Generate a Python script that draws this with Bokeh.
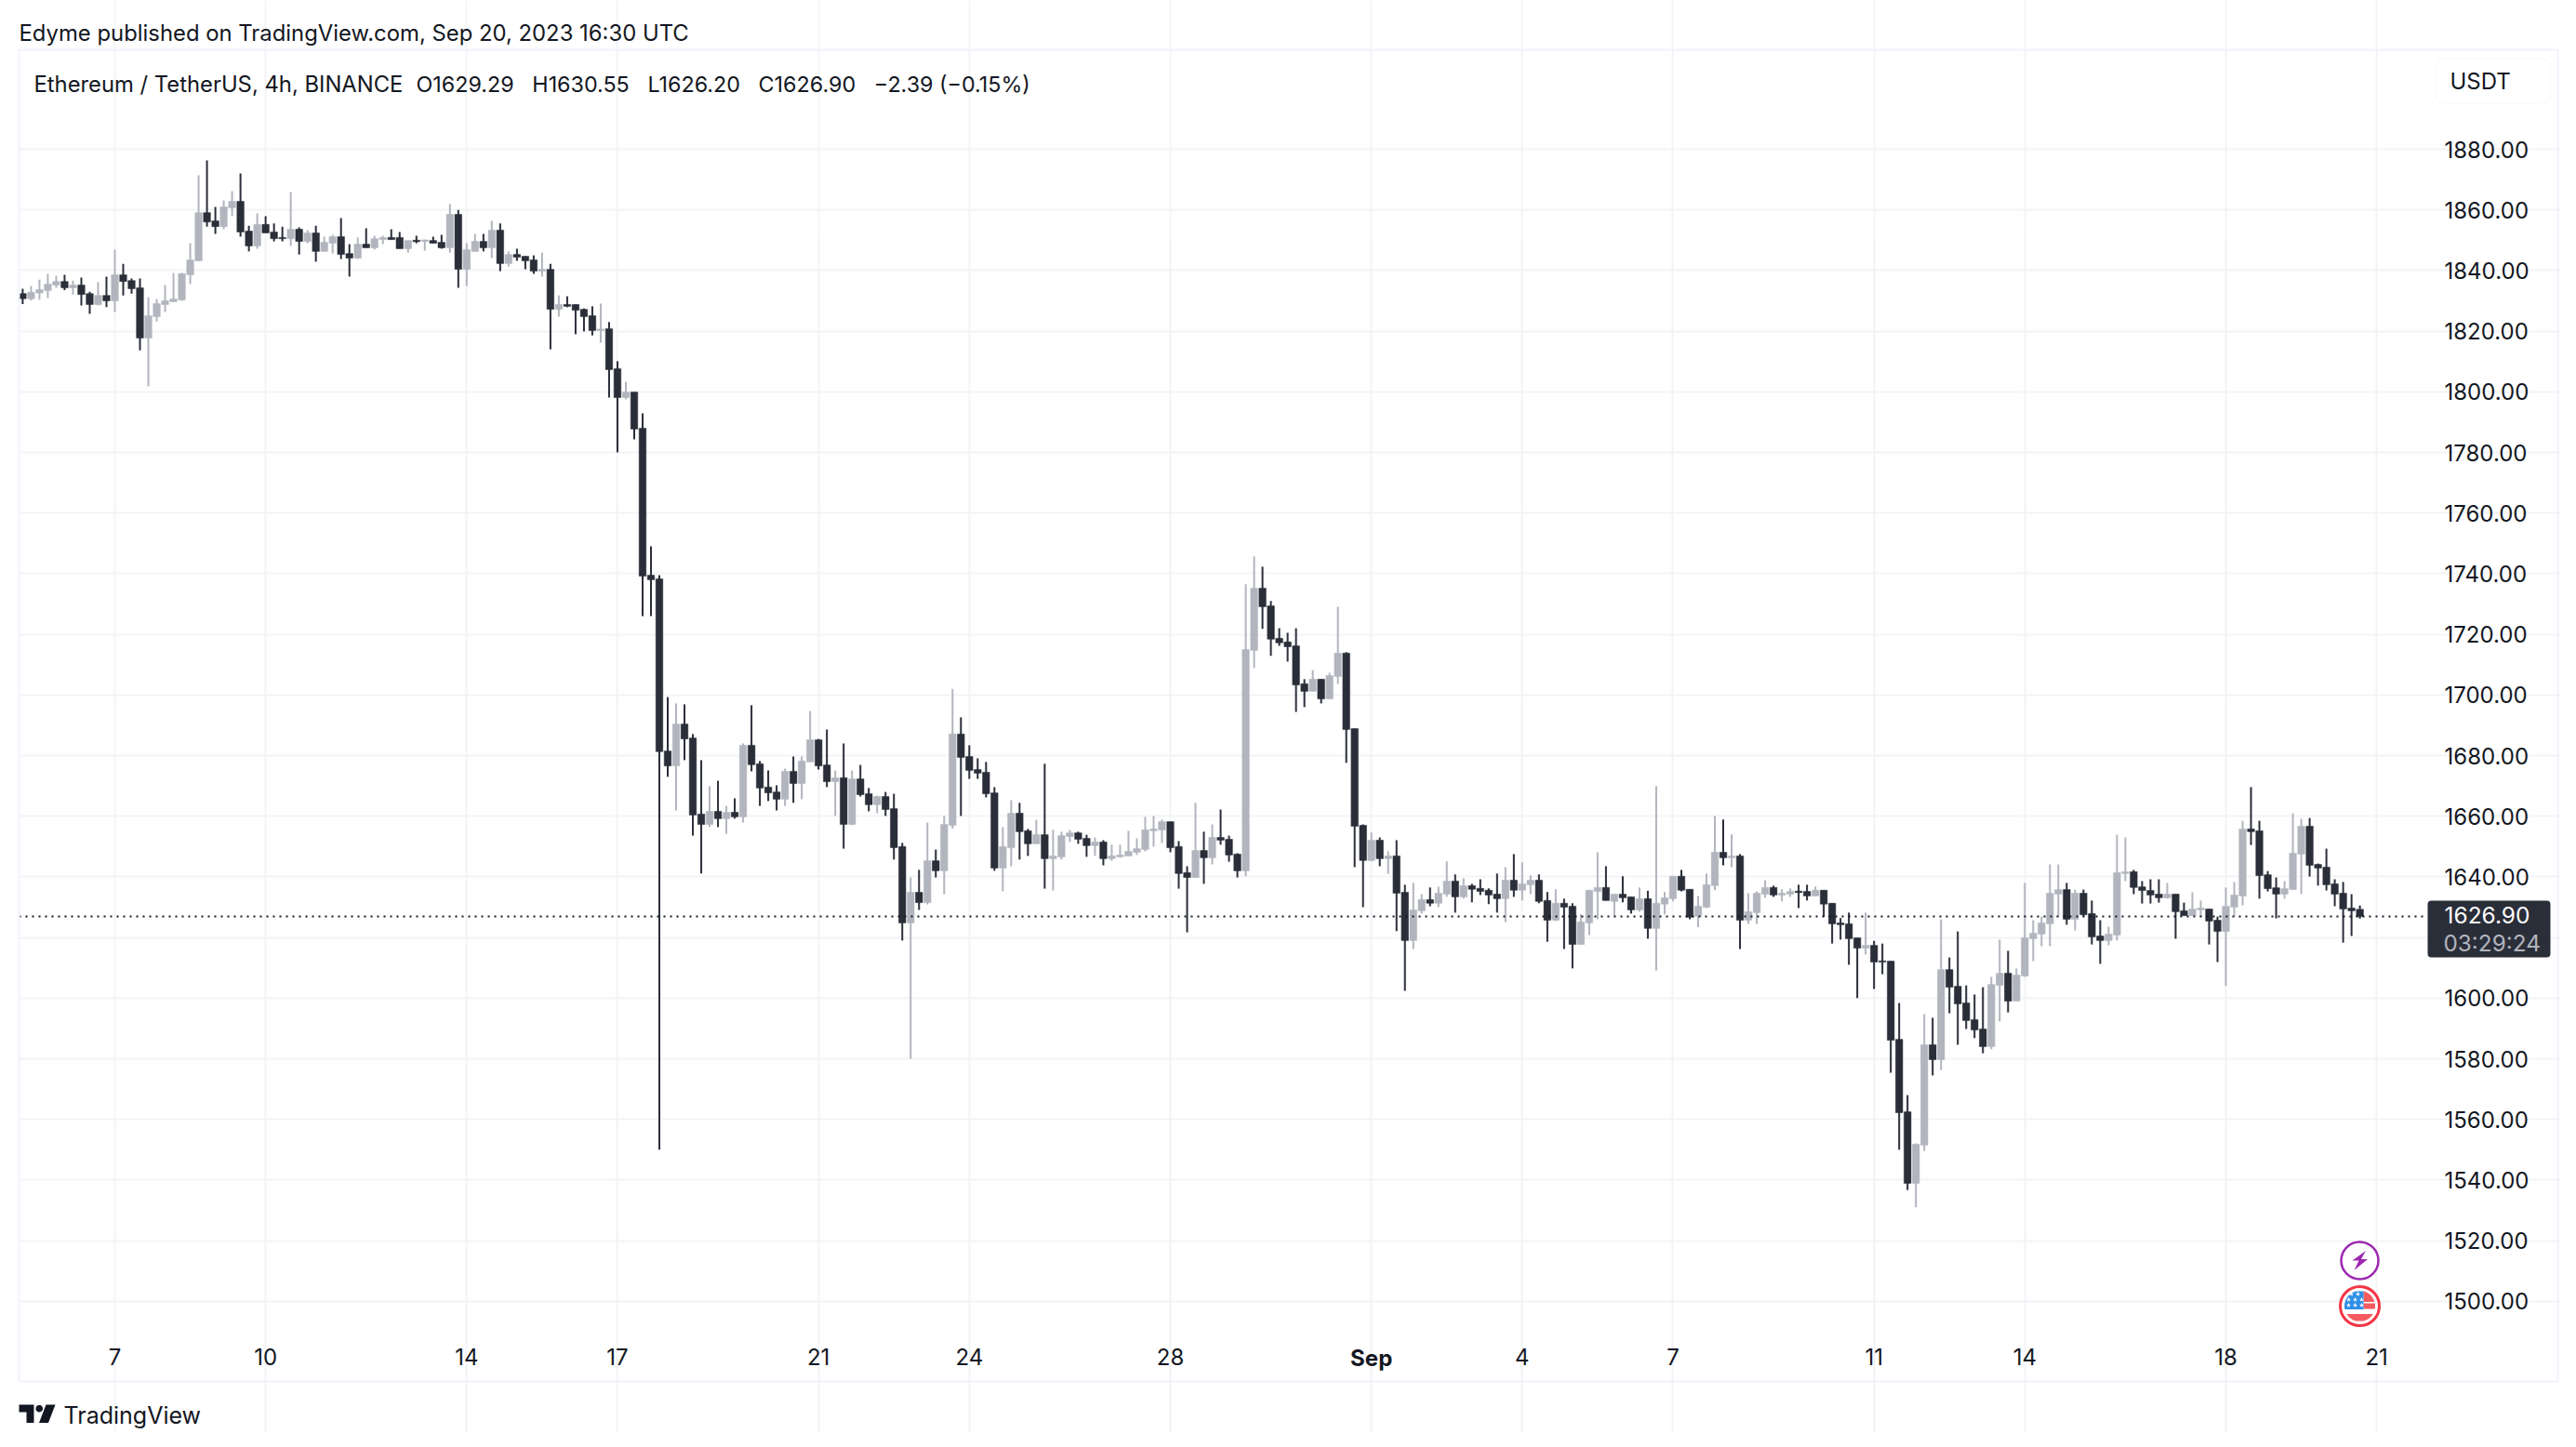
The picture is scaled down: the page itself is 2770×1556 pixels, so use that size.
from bokeh.plotting import figure
from bokeh.models import (ColumnDataSource, Range1d, FixedTicker, Label, BoxAnnotation,
                          PolyAnnotation, NumeralTickFormatter)
from bokeh.embed import file_html
from bokeh.resources import INLINE
import numpy as np

opens = [
1832.4,1830.7,1832.6,1833.4,1835.2,1836.4,1834.3,1835.2,1832.4,1828.8,
1831.8,1830.0,1838.6,1836.7,1834.3,1817.7,1824.8,1828.8,1829.7,1830.3,
1838.6,1843.2,1859.1,1856.4,1854.5,1860.7,1862.8,1853.0,1848.1,1855.2,
1852.7,1850.9,1850.5,1853.6,1849.6,1852.4,1846.3,1849.0,1851.2,1845.6,
1844.1,1848.7,1847.5,1850.2,1850.9,1850.9,1847.2,1850.0,1849.6,1849.9,
1849.3,1847.5,1858.5,1840.4,1846.3,1849.6,1847.5,1853.3,1842.3,1845.3,
1844.7,1843.5,1839.8,1840.4,1827.2,1828.8,1828.8,1827.2,1825.1,1820.2,
1820.8,1807.6,1798.1,1799.9,1788.0,1739.5,1738.3,1681.5,1676.6,1690.4,
1685.8,1660.7,1657.3,1661.6,1659.2,1661.3,1659.8,1683.4,1677.3,1669.6,
1668.0,1665.6,1674.8,1670.8,1677.9,1685.2,1676.9,1671.4,1672.7,1657.3,
1672.3,1667.4,1663.8,1666.5,1662.5,1650.0,1624.8,1634.9,1631.5,1645.3,
1642.0,1657.0,1687.1,1679.7,1675.4,1674.5,1667.7,1642.9,1649.6,1661.0,
1655.2,1650.9,1653.9,1646.0,1646.6,1653.3,1654.5,1652.7,1650.3,1651.5,
1646.0,1646.6,1646.9,1648.1,1649.0,1655.2,1655.5,1658.2,1650.0,1641.4,
1639.8,1648.7,1646.3,1653.0,1652.4,1647.5,1642.0,1714.7,1735.2,1729.4,
1718.7,1717.5,1716.2,1703.7,1701.2,1705.2,1698.7,1706.1,1713.8,1688.9,
1657.0,1645.4,1652.1,1646.0,1646.9,1634.9,1619.0,1628.8,1632.5,1631.3,
1634.3,1638.6,1633.4,1637.1,1636.2,1635.6,1634.3,1632.8,1638.9,1635.6,
1637.4,1638.9,1632.2,1625.7,1631.3,1630.3,1617.7,1624.8,1635.2,1636.5,
1631.9,1634.3,1633.4,1629.1,1632.8,1623.0,1631.0,1632.8,1640.2,1635.9,
1627.0,1630.0,1637.1,1648.1,1646.3,1646.9,1625.7,1628.2,1634.3,1636.5,
1634.0,1634.3,1635.3,1635.2,1633.7,1635.6,1631.3,1624.8,1624.5,1619.9,
1616.5,1617.4,1612.3,1612.2,1586.4,1562.5,1538.9,1551.5,1584.6,1579.7,
1609.4,1603.9,1598.4,1592.9,1589.8,1584.0,1604.2,1608.2,1599.0,1607.3,
1619.6,1621.1,1624.5,1634.3,1635.8,1626.0,1634.6,1627.9,1620.5,1619.0,
1620.8,1641.1,1641.7,1636.7,1635.5,1634.3,1633.1,1634.3,1628.8,1627.2,
1629.1,1629.4,1625.7,1622.0,1630.0,1633.7,1655.8,1655.2,1640.7,1636.4,
1634.3,1635.8,1647.5,1656.7,1644.1,1643.2,1637.7,1634.6,1629.7,1629.29]

closes = [
1830.7,1832.8,1833.7,1835.5,1836.4,1834.3,1835.2,1832.1,1828.8,1831.8,
1830.0,1838.6,1836.4,1834.0,1817.7,1825.1,1829.1,1830.0,1830.6,1839.0,
1843.5,1859.1,1856.0,1854.5,1861.0,1862.8,1852.7,1848.1,1855.2,1852.4,
1850.5,1850.5,1853.6,1849.6,1852.4,1846.3,1849.3,1851.2,1845.3,1844.1,
1848.7,1847.5,1850.5,1850.9,1850.2,1847.2,1849.9,1849.5,1850.1,1849.0,
1847.5,1858.5,1840.4,1846.9,1849.6,1847.5,1853.3,1842.3,1845.3,1844.4,
1843.2,1839.8,1840.4,1827.2,1828.8,1828.2,1826.9,1824.8,1820.2,1820.7,
1807.3,1798.1,1799.9,1787.7,1739.2,1738.0,1681.3,1676.6,1690.4,1685.5,
1660.4,1657.3,1661.6,1659.2,1661.3,1659.8,1683.4,1677.0,1669.3,1667.7,
1665.6,1674.8,1670.8,1678.2,1685.2,1676.6,1671.4,1672.7,1657.3,1672.3,
1667.1,1663.8,1666.5,1662.2,1649.6,1624.8,1634.9,1631.5,1645.3,1642.0,
1657.3,1687.1,1679.4,1675.1,1674.2,1667.4,1642.9,1650.0,1661.0,1654.9,
1650.9,1653.9,1646.0,1646.9,1653.6,1654.5,1652.4,1650.3,1651.5,1646.0,
1646.9,1647.2,1648.4,1649.3,1655.5,1655.8,1658.2,1649.6,1641.1,1639.8,
1648.7,1646.3,1653.0,1652.1,1647.2,1642.0,1715.0,1735.2,1729.1,1718.4,
1717.2,1715.9,1703.3,1701.2,1705.2,1698.7,1706.4,1713.8,1688.6,1656.7,
1645.4,1652.1,1646.0,1646.9,1634.6,1619.0,1629.1,1632.5,1631.3,1634.6,
1638.6,1633.4,1637.1,1635.9,1635.2,1634.0,1632.8,1638.9,1635.6,1637.7,
1638.9,1631.9,1625.7,1631.3,1630.0,1617.7,1625.1,1635.6,1636.5,1632.2,
1634.3,1633.1,1629.1,1632.8,1623.0,1631.3,1633.1,1640.2,1635.6,1626.7,
1630.3,1637.4,1648.1,1646.3,1646.9,1625.7,1628.5,1634.6,1636.5,1634.0,
1634.6,1635.2,1634.8,1633.7,1635.6,1631.0,1624.5,1624.2,1619.6,1616.5,
1617.4,1611.9,1611.9,1586.1,1562.2,1538.9,1551.8,1584.6,1579.7,1609.4,
1603.6,1598.1,1592.6,1589.5,1584.0,1604.5,1608.2,1599.0,1607.6,1619.9,
1621.4,1624.8,1634.6,1635.8,1626.0,1634.6,1627.5,1620.2,1619.0,1621.1,
1641.4,1641.7,1636.5,1635.5,1634.0,1633.1,1634.3,1628.5,1627.2,1629.4,
1629.7,1625.4,1622.0,1630.3,1634.0,1655.8,1654.9,1640.4,1636.1,1634.3,
1636.1,1647.8,1656.7,1643.8,1642.9,1637.4,1634.3,1629.4,1628.8,1626.90]

highs = [
1834.0,1834.9,1837.0,1838.9,1838.3,1838.6,1836.7,1837.7,1833.0,1836.1,
1838.0,1846.9,1842.2,1837.4,1837.4,1831.2,1830.6,1835.2,1839.2,1839.2,
1849.0,1871.4,1876.3,1861.0,1863.1,1866.2,1872.0,1854.8,1858.8,1857.9,
1855.5,1854.5,1865.9,1854.2,1853.3,1854.8,1851.2,1851.8,1857.3,1848.7,
1850.9,1853.9,1851.5,1851.5,1853.6,1852.7,1849.9,1851.5,1850.2,1851.2,
1851.8,1861.9,1860.0,1849.0,1852.1,1852.1,1856.4,1855.5,1846.3,1847.2,
1844.7,1845.0,1845.9,1842.2,1831.8,1831.5,1828.8,1827.5,1828.2,1829.1,
1823.0,1810.1,1803.3,1799.9,1792.9,1749.0,1739.5,1699.3,1697.2,1696.9,
1687.1,1678.5,1669.9,1671.7,1663.4,1665.9,1684.0,1696.6,1678.2,1675.1,
1670.2,1675.7,1679.7,1679.7,1694.7,1685.5,1688.6,1675.1,1684.0,1675.1,
1676.9,1669.3,1666.8,1668.0,1667.4,1651.2,1639.8,1642.3,1657.9,1649.0,
1660.1,1702.0,1692.6,1683.4,1679.1,1677.9,1669.6,1656.4,1665.3,1664.4,
1655.8,1658.8,1677.3,1655.5,1654.9,1655.5,1654.9,1653.9,1653.0,1652.1,
1650.6,1650.6,1655.2,1652.7,1659.8,1660.1,1658.9,1658.2,1651.8,1643.5,
1664.4,1654.9,1657.3,1662.2,1653.6,1647.8,1736.5,1745.7,1742.3,1731.0,
1722.0,1720.5,1722.0,1705.2,1708.2,1705.2,1707.3,1729.1,1714.1,1688.9,
1657.3,1654.6,1653.0,1648.4,1652.1,1637.4,1638.0,1634.3,1636.5,1636.8,
1645.1,1640.8,1639.5,1637.7,1639.2,1636.2,1641.1,1643.2,1647.5,1644.8,
1640.5,1640.8,1635.0,1635.9,1632.8,1631.3,1627.7,1635.6,1648.1,1643.5,
1634.3,1640.2,1633.4,1636.5,1635.4,1669.9,1635.0,1640.2,1642.3,1635.9,
1633.7,1641.1,1660.1,1658.9,1654.0,1647.5,1634.6,1635.2,1638.9,1637.1,
1635.9,1636.2,1637.4,1637.4,1636.8,1635.6,1631.3,1626.4,1628.2,1619.9,
1628.2,1618.9,1618.0,1612.2,1598.4,1568.0,1552.1,1594.7,1593.5,1626.0,
1613.4,1622.0,1604.2,1601.2,1603.6,1607.0,1619.3,1615.6,1609.8,1638.0,
1625.7,1626.9,1644.1,1644.1,1638.0,1635.8,1635.8,1632.2,1625.7,1623.6,
1653.9,1653.0,1642.3,1638.6,1639.2,1639.2,1638.0,1634.3,1631.5,1634.9,
1632.2,1629.4,1626.9,1636.5,1638.3,1658.5,1669.6,1658.5,1641.9,1639.8,
1638.6,1661.0,1659.1,1659.4,1644.4,1649.3,1639.2,1638.3,1634.3,1630.55]

lows = [
1828.9,1830.1,1830.4,1830.9,1834.3,1833.5,1832.1,1828.5,1825.7,1828.5,
1827.9,1826.3,1831.8,1832.4,1813.7,1801.8,1823.2,1826.3,1829.7,1830.0,
1835.5,1843.2,1854.5,1852.1,1853.6,1857.9,1851.2,1846.3,1847.2,1852.4,
1849.6,1849.6,1848.1,1845.3,1849.0,1842.9,1846.3,1845.6,1843.8,1838.0,
1843.8,1847.5,1846.9,1848.7,1850.2,1847.2,1845.9,1849.0,1846.6,1849.0,
1847.2,1845.9,1834.3,1834.9,1846.3,1846.3,1844.1,1839.8,1841.3,1843.2,
1840.4,1838.9,1838.0,1814.0,1824.8,1827.9,1819.0,1819.9,1818.6,1816.2,
1798.1,1780.0,1797.5,1784.3,1726.0,1726.0,1550.0,1673.0,1661.9,1678.5,
1653.6,1641.1,1656.4,1656.4,1654.2,1659.2,1657.9,1674.8,1663.4,1665.0,
1661.9,1663.4,1664.4,1665.6,1677.9,1675.4,1669.6,1660.1,1649.3,1657.0,
1666.5,1661.6,1661.0,1660.1,1645.7,1619.0,1580.0,1629.1,1630.9,1639.8,
1634.3,1655.9,1660.1,1672.3,1672.3,1666.2,1642.0,1635.2,1643.5,1645.7,
1646.9,1650.9,1636.1,1635.5,1645.7,1651.5,1650.9,1646.6,1646.9,1643.8,
1645.3,1646.3,1646.9,1647.2,1648.4,1650.0,1651.2,1648.1,1636.1,1621.7,
1639.8,1637.7,1644.1,1650.6,1645.0,1639.8,1640.2,1708.9,1721.8,1712.9,
1716.2,1711.0,1694.4,1696.0,1701.2,1697.2,1698.7,1703.6,1677.6,1643.2,
1630.0,1645.1,1643.5,1641.0,1622.1,1602.4,1616.2,1627.9,1630.3,1630.0,
1633.4,1628.2,1632.8,1631.6,1634.0,1631.0,1628.2,1625.1,1633.4,1632.2,
1634.3,1631.3,1618.6,1625.4,1616.2,1609.8,1617.7,1620.8,1626.0,1632.2,
1627.0,1631.6,1627.9,1628.5,1619.6,1609.1,1627.6,1631.9,1635.2,1626.0,
1623.4,1629.7,1635.6,1643.8,1643.2,1616.2,1624.5,1624.5,1633.1,1633.4,
1631.9,1633.4,1629.7,1632.2,1633.7,1626.8,1618.0,1619.3,1611.0,1600.0,
1614.4,1603.0,1607.9,1575.4,1550.0,1536.7,1531.0,1549.6,1574.5,1576.3,
1595.0,1584.6,1589.8,1586.8,1581.8,1583.1,1592.3,1595.3,1599.0,1607.0,
1612.2,1617.1,1617.1,1626.9,1624.2,1622.3,1626.9,1617.7,1611.3,1617.4,
1619.0,1638.6,1634.3,1631.2,1631.2,1631.5,1632.8,1619.6,1627.2,1627.2,
1626.9,1617.7,1611.9,1604.0,1626.9,1630.6,1650.5,1632.8,1635.2,1626.3,
1632.8,1635.8,1634.3,1640.1,1637.1,1635.5,1630.3,1618.3,1620.5,1626.20]

price_ticks = [1500, 1520, 1540, 1560, 1580, 1600, 1620, 1640, 1660, 1680, 1700, 1720, 1740, 1760, 1780,
               1800, 1820, 1840, 1860, 1880]
# candle index of the first candle of each labelled day
day_ticks = [11, 29, 53, 71, 95, 113, 137, 161, 179, 197, 221, 239, 263, 281]
day_labels = ["7", "10", "14", "17", "21", "24", "28", "Sep", "4", "7", "11", "14", "18", "21"]

UP, DOWN, INK = "#b2b5be", "#2a2e39", "#131722"
GRID = "#f3f4f7"
BORDER = "#f0f3fa"
FONT = "Inter"

W, H = 2754, 1540
FL, FT, FR, FB = 20, 53, 2610, 1430      # chart pane edges in canvas pixels


def X(px):  # canvas pixel to candle index
    return (px - 23.9) / 9.008


def Y(py):  # canvas pixel to price
    return 1880 - (py - 160) / 3.26


p = figure(width=W, height=H, output_backend="svg", toolbar_location=None,
           x_range=Range1d(X(0), X(W)), y_range=Range1d(Y(H), Y(0)),
           y_axis_location="right", x_axis_location="below", tools="",
           min_border=0, background_fill_color="white", border_fill_color="white")
p.outline_line_color = None

p.xgrid.ticker = FixedTicker(ticks=day_ticks)
p.ygrid.ticker = FixedTicker(ticks=price_ticks)
p.xgrid.bounds = (Y(FB), Y(FT))
p.ygrid.bounds = (X(FL), X(FR))
for g in (p.xgrid, p.ygrid):
    g.grid_line_color = GRID
    g.grid_line_width = 2

ya = p.yaxis[0]
ya.fixed_location = X(FR)
ya.ticker = FixedTicker(ticks=price_ticks)
ya.formatter = NumeralTickFormatter(format="0.00")
ya.major_label_overrides = {1620: ""}
ya.major_label_text_font = FONT
ya.major_label_text_font_size = "24px"
ya.major_label_text_color = INK
ya.major_label_standoff = 12
ya.major_tick_line_color = None
ya.minor_tick_line_color = None
ya.axis_line_color = None

xa = p.xaxis[0]
xa.fixed_location = Y(FB)
xa.ticker = FixedTicker(ticks=day_ticks)
xa.major_label_overrides = {t: ("" if l == "Sep" else l) for t, l in zip(day_ticks, day_labels)}
xa.major_label_text_font = FONT
xa.major_label_text_font_size = "24px"
xa.major_label_text_color = INK
xa.major_label_standoff = 13
xa.major_tick_line_color = None
xa.minor_tick_line_color = None
xa.axis_line_color = None

idx = list(range(len(opens)))
colors = [UP if c >= o else DOWN for o, c in zip(opens, closes)]
src = ColumnDataSource(dict(x=idx, o=opens, c=closes, h=highs, l=lows, color=colors))
p.segment("x", "h", "x", "l", source=src, line_color="color", line_width=2)
p.vbar("x", width=0.84, top="o", bottom="c", source=src, fill_color="color", line_color="color", line_width=0.5)

p.line([X(FL), X(FR)], [closes[-1], closes[-1]], line_color=INK, line_width=2, line_dash="2 5")


def label(px, py, text, size, color=INK, align="left", style="normal"):
    p.add_layout(Label(x=X(px), y=Y(py), text=text, text_font=FONT,
                       text_font_size=size, text_color=color,
                       text_align=align, text_baseline="middle", text_font_style=style))


def poly(xs, ys, fill=None, line=None, lw=0):
    p.add_layout(PolyAnnotation(xs=[X(v) for v in xs], ys=[Y(v) for v in ys],
                                fill_color=fill, fill_alpha=1 if fill else 0,
                                line_color=line, line_width=lw, line_alpha=1 if line else 0))


def box(left, right, top, bottom, **kw):
    p.add_layout(BoxAnnotation(left=X(left), right=X(right), top=Y(top), bottom=Y(bottom),
                               fill_alpha=1, **kw))


# keep the left margin clean, then the outer chart frame
box(0, 20, 0, H, fill_color="white", line_color=None)
poly([20, 2750, 2750, 20], [53, 53, 1485, 1485], line=BORDER, lw=2)

N3 = "\u00a0\u00a0\u00a0"
# header, footer and Sep label
label(20, 35, "Edyme published on TradingView.com, Sep 20, 2023 16:30 UTC", "23.85px")
label(36, 90, "Ethereum / TetherUS, 4h, BINANCE", "23.8px")
label(447, 90, f"O1629.29{N3}H1630.55{N3}L1626.20{N3}C1626.90{N3}\u22122.39 (\u22120.15%)", "23.3px")
label(23.9 + 9.008 * day_ticks[day_labels.index("Sep")], 1460, "Sep", "24px", align="center", style="bold")
label(68, 1521, "TradingView", "25px")

# logo
poly([20, 36, 36, 28, 28, 20], [1510, 1510, 1529.5, 1529.5, 1518, 1518], fill=INK)
t = np.linspace(0, 2 * np.pi, 30)
poly(41.7 + 3.8 * np.cos(t), 1514.2 + 3.8 * np.sin(t), fill=INK)
poly([49, 59, 51.5, 41.5], [1510, 1510, 1529.5, 1529.5], fill=INK)

# USDT button
box(2618, 2742, 62, 110, fill_color="white", line_color=BORDER, line_width=2, border_radius=10)
label(2634, 87, "USDT", "24px")

# last-price tag
box(2610, 2742, 968, 1029, fill_color=DOWN, line_color=DOWN, line_width=0, border_radius=4)
label(2628, 983, f"{closes[-1]:.2f}", "24.5px", color="white")
label(2627, 1013, "03:29:24", "24.3px", color="#b2b5be")


# event icons
def ring(cx, cy, color, r, lw):
    p.scatter([X(cx)], [Y(cy)], size=2 * r, fill_color="white", line_color=color, line_width=lw)


def band(cx, cy, r, x0, x1, y0, y1, color):
    ys = np.linspace(y0, y1, 16)
    half = np.sqrt(np.maximum(r * r - (ys - cy) ** 2, 0))
    left = np.maximum(x0, cx - half)
    right = np.minimum(x1, cx + half)
    p.patch(list(X(np.r_[left, right[::-1]])), list(Y(np.r_[ys, ys[::-1]])), fill_color=color, line_color=None)


ring(2537, 1355, "#9c27b0", 20, 2.5)
bolt_x = [2543.5, 2529, 2536, 2531, 2545.5, 2538.5]
bolt_y = [1344.5, 1355, 1355, 1365.5, 1353.5, 1353.5]
p.patch(list(X(np.array(bolt_x))), list(Y(np.array(bolt_y))), fill_color="#9c27b0", line_color=None)

ring(2537, 1404, "#f23645", 21, 3)
cx, cy, r = 2537, 1404, 16.5
band(cx, cy, r, 2541, 2560, 1388, 1399.5, "#f55a5f")
band(cx, cy, r, 2541, 2560, 1401, 1407, "#f55a5f")
band(cx, cy, r, 2510, 2560, 1412.5, 1420, "#f55a5f")
band(cx, cy, r, 2510, 2541, 1388, 1407.5, "#2f8fe8")
star_x = [2528, 2535, 2525, 2532, 2539, 2525, 2532, 2539]
star_y = [1391, 1391, 1397, 1397, 1397, 1403, 1403, 1403]
p.scatter(list(X(np.array(star_x))), list(Y(np.array(star_y))), marker="star", size=5.5,
          fill_color="white", line_color=None)

open("out.html", "w").write(file_html(p, INLINE))
